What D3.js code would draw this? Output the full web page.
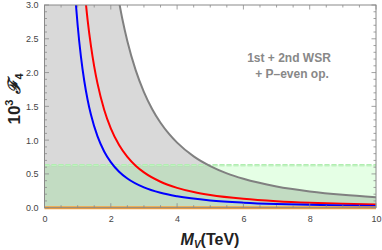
<!DOCTYPE html>
<html><head><meta charset="utf-8">
<script src="https://cdn.jsdelivr.net/npm/d3@7"></script>
<style>body{margin:0;background:#fff}svg{display:block;font-family:"Liberation Sans",Arial,sans-serif}</style>
</head><body><div id="chart"></div>
<script>
// data (M_V in TeV, 10^3 F4)
const grayM = [2.2,2.35,2.5,2.75,3,3.25,3.5,3.75,4,4.5,5,5.5,6,7,8,9,10];
const grayV = [3.18,2.789,2.464,2.036,1.711,1.458,1.257,1.095,0.963,0.760,0.616,0.509,0.428,0.314,0.241,0.190,0.154];
const redM = [1.2,1.3,1.4,1.5,1.6,1.8,2.0,2.25,2.5,2.75,3,3.5,4,4.5,5,6,7,8,9,10];
const redV = [3.264,2.781,2.398,2.089,1.836,1.451,1.175,0.928,0.752,0.621,0.522,0.384,0.294,0.232,0.188,0.131,0.096,0.073,0.058,0.047];
const blueM = [0.9,0.95,1.0,1.1,1.2,1.3,1.4,1.6,1.8,2.0,2.25,2.5,3,3.5,4,5,6,7,8,9,10];
const blueV = [3.333,2.992,2.70,2.231,1.875,1.598,1.378,1.055,0.833,0.675,0.533,0.432,0.300,0.220,0.169,0.108,0.075,0.055,0.042,0.033,0.027];
const greenBand = [0, 0.63];
const orangeLevel = [0];
const xTicks = [0,2,4,6,8,10];
const yTicks = [0.0,0.5,1.0,1.5,2.0,2.5,3.0];
const xDomain = [0,10];
const yDomain = [0,3];
const annotation = ["1st + 2nd WSR", "+ P\u2013even op."];

const W=382,H=250;
const m={l:44.5,r:6,t:5,b:42.3};
const svg=d3.select("#chart").append("svg").attr("width",W).attr("height",H);
const x=d3.scaleLinear().domain(xDomain).range([m.l,W-m.r]);
const y=d3.scaleLinear().domain(yDomain).range([H-m.b,m.t]);

svg.append("clipPath").attr("id","clip").append("rect")
  .attr("x",x(0)).attr("y",y(3)).attr("width",x(10)-x(0)).attr("height",y(0)-y(3));
const g=svg.append("g").attr("clip-path","url(#clip)");

// gray region: everything left of / below the gray curve
const area=d3.area().x(d=>x(d[0])).y0(y(0)).y1(d=>y(Math.min(d[1],4))).curve(d3.curveMonotoneX);
const grayArea=[[0,4],[2.0,4]].concat(grayM.map((d,i)=>[d,grayV[i]]));
g.append("path").datum(grayArea).attr("d",area).attr("fill","#d9d9d9");

// green band
g.append("rect").attr("x",x(0)).attr("width",x(10)-x(0))
  .attr("y",y(greenBand[1])).attr("height",y(greenBand[0])-y(greenBand[1]))
  .attr("fill","rgba(0,255,0,0.1)");
g.append("line").attr("x1",x(0)).attr("x2",x(10)).attr("y1",y(greenBand[1])).attr("y2",y(greenBand[1]))
  .attr("stroke","#9be89b").attr("stroke-width",2.2).attr("stroke-dasharray","5,2");
g.append("line").attr("x1",x(0)).attr("x2",x(10)).attr("y1",y(greenBand[1])).attr("y2",y(greenBand[1]))
  .attr("stroke","#e4fbe4").attr("stroke-width",0.8).attr("stroke-dasharray","5,2");

const line=d3.line().x(d=>x(d[0])).y(d=>y(d[1])).curve(d3.curveMonotoneX);
g.append("path").datum(grayM.map((d,i)=>[d,grayV[i]])).attr("d",line)
  .attr("fill","none").attr("stroke","#808080").attr("stroke-width",2);
g.append("path").datum(redM.map((d,i)=>[d,redV[i]])).attr("d",line)
  .attr("fill","none").attr("stroke","#ff0000").attr("stroke-width",2);
g.append("path").datum(blueM.map((d,i)=>[d,blueV[i]])).attr("d",line)
  .attr("fill","none").attr("stroke","#0000ff").attr("stroke-width",2);

// orange line at zero
svg.append("line").attr("x1",x(0)).attr("x2",x(10)).attr("y1",y(orangeLevel[0])).attr("y2",y(orangeLevel[0]))
  .attr("stroke","#f7a037").attr("stroke-width",3);

// frame and ticks
const fc="#8a8a8a";
svg.append("rect").attr("x",x(0)).attr("y",y(3)).attr("width",x(10)-x(0)).attr("height",y(0)-y(3))
  .attr("fill","none").attr("stroke",fc).attr("stroke-width",1);
const xMinor=d3.range(0,10.01,0.5), yMinor=d3.range(0,3.001,0.1);
const tk=svg.append("g").attr("stroke",fc).attr("stroke-width",0.8);
xMinor.forEach(v=>{
  const major=Math.abs(v/2-Math.round(v/2))<1e-6, L=major?4.5:2.5;
  tk.append("line").attr("x1",x(v)).attr("x2",x(v)).attr("y1",y(0)).attr("y2",y(0)-L);
  tk.append("line").attr("x1",x(v)).attr("x2",x(v)).attr("y1",y(3)).attr("y2",y(3)+L);
});
yMinor.forEach(v=>{
  const major=Math.abs(v/0.5-Math.round(v/0.5))<1e-6, L=major?4.5:2.5;
  tk.append("line").attr("x1",x(0)).attr("x2",x(0)+L).attr("y1",y(v)).attr("y2",y(v));
  tk.append("line").attr("x1",x(10)).attr("x2",x(10)-L).attr("y1",y(v)).attr("y2",y(v));
});

// axis labels via d3 axes (text only)
const xa=svg.append("g").attr("transform",`translate(0,${y(0)})`)
  .call(d3.axisBottom(x).tickValues(xTicks).tickSize(0).tickPadding(8).tickFormat(d3.format("d")));
xa.select(".domain").remove();
xa.selectAll("text").attr("font-size",9).attr("fill","#444").attr("font-family","Liberation Sans, Arial, sans-serif");
const ya=svg.append("g").attr("transform",`translate(${x(0)},0)`)
  .call(d3.axisLeft(y).tickValues(yTicks).tickSize(0).tickPadding(6).tickFormat(d3.format(".1f")));
ya.select(".domain").remove();
ya.selectAll("text").attr("font-size",9).attr("fill","#444").attr("font-family","Liberation Sans, Arial, sans-serif");

// x title
const xt=svg.append("text").attr("x",210).attr("y",245).attr("text-anchor","middle")
  .attr("font-size",16).attr("font-weight","bold").attr("fill","#222");
xt.append("tspan").attr("font-style","italic").text("M");
xt.append("tspan").attr("font-style","italic").attr("font-size",10).attr("dy",3).text("V");
xt.append("tspan").attr("dy",-3).text("(TeV)");

// y title
const yt=svg.append("text").attr("transform","translate(20,99) rotate(-90)").attr("text-anchor","middle")
  .attr("font-size",17).attr("font-weight","bold").attr("fill","#222");
yt.append("tspan").text("10");
yt.append("tspan").attr("font-size",11).attr("dy",-7).text("3");
yt.append("tspan").attr("dy",7).attr("font-family","DejaVu Serif, serif").attr("font-style","italic").text(" \u2131");
yt.append("tspan").attr("font-size",11).attr("dy",3).text("4");

// annotation
svg.append("text").attr("x",289).attr("y",62).attr("text-anchor","middle")
  .attr("font-size",12).attr("font-weight","bold").attr("fill","#888").text(annotation[0]);
svg.append("text").attr("x",292).attr("y",78).attr("text-anchor","middle")
  .attr("font-size",12).attr("font-weight","bold").attr("fill","#888").text(annotation[1]);
</script></body></html>
